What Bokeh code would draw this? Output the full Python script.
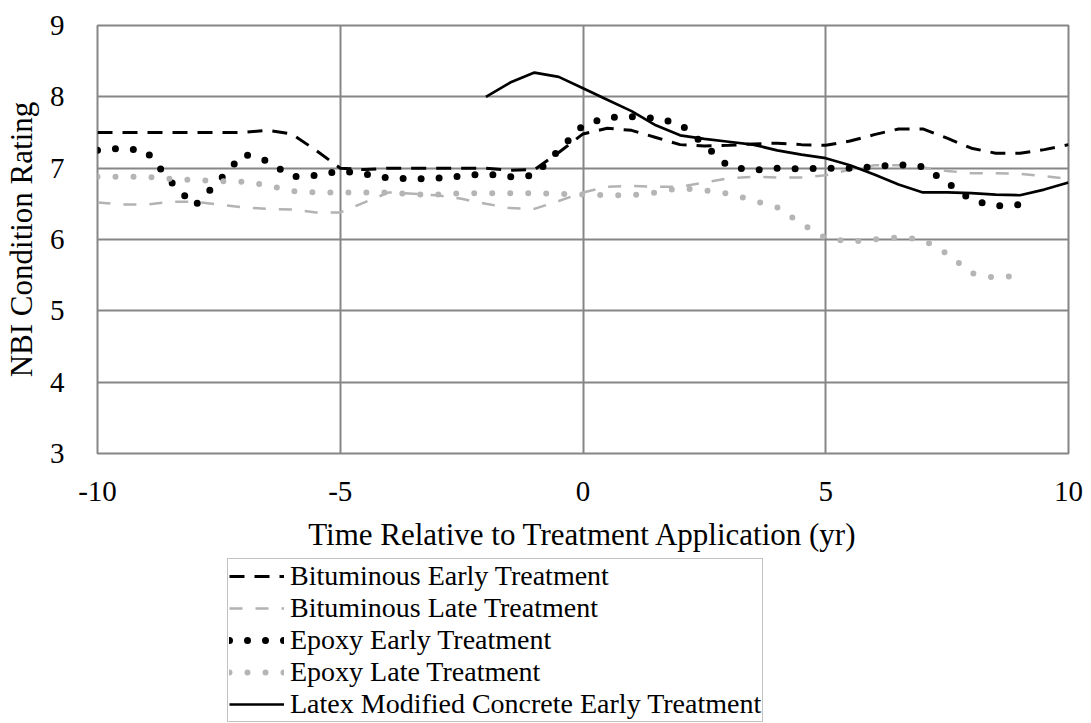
from bokeh.plotting import figure
from bokeh.layouts import column
from bokeh.models import Legend, LegendItem, FixedTicker, Range1d
from bokeh.embed import file_html
from bokeh.resources import INLINE

nan = float("nan")

years = [-10, -9.5, -9, -8.5, -8, -7.5, -7, -6.5, -6, -5.5, -5, -4.5, -4, -3.5, -3, -2.5, -2, -1.5, -1, -0.5,
         0, 0.5, 1, 1.5, 2, 2.5, 3, 3.5, 4, 4.5, 5, 5.5, 6, 6.5, 7, 7.5, 8, 8.5, 9, 9.5, 10]

bituminous_early = [7.50, 7.50, 7.50, 7.50, 7.50, 7.50, 7.50, 7.53, 7.48, 7.25, 7.00, 6.98, 7.00, 7.00, 7.00, 7.00, 7.00, 6.97, 6.98, 7.22,
                    7.48, 7.56, 7.53, 7.43, 7.33, 7.31, 7.32, 7.34, 7.35, 7.33, 7.32, 7.38, 7.47, 7.55, 7.55, 7.42, 7.28, 7.21, 7.21, 7.26, 7.33]

bituminous_late = [6.52, 6.49, 6.49, 6.53, 6.53, 6.49, 6.45, 6.43, 6.42, 6.38, 6.38, 6.52, 6.66, 6.64, 6.62, 6.57, 6.50, 6.44, 6.43, 6.54,
                   6.66, 6.74, 6.75, 6.74, 6.74, 6.80, 6.86, 6.88, 6.87, 6.87, 6.90, 6.98, 7.04, 7.04, 7.01, 6.96, 6.93, 6.93, 6.92, 6.89, 6.85]

epoxy_early = [7.25, 7.28, 7.24, 6.82, 6.47, 6.82, 7.20, 7.10, 6.88, 6.90, 6.96, 6.92, 6.86, 6.85, 6.86, 6.89, 6.92, 6.88, 6.90, 7.25,
               7.60, 7.71, 7.72, 7.70, 7.62, 7.33, 7.02, 6.97, 7.00, 6.99, 7.00, 7.00, 7.02, 7.05, 7.02, 6.80, 6.55, 6.47, 6.49, nan, nan]

epoxy_late = [6.88, 6.88, 6.88, 6.85, 6.83, 6.82, 6.81, 6.76, 6.68, 6.66, 6.66, 6.66, 6.66, 6.63, 6.63, 6.65, 6.65, 6.65, 6.65, 6.64,
              6.63, 6.62, 6.62, 6.66, 6.72, 6.69, 6.64, 6.55, 6.45, 6.22, 6.02, 5.97, 6.00, 6.03, 6.00, 5.80, 5.53, 5.46, 5.50, nan, nan]

latex_early = [nan, nan, nan, nan, nan, nan, nan, nan, nan, nan, nan, nan, nan, nan, nan, nan, 8.00, 8.20, 8.34, 8.28,
               8.12, 7.96, 7.80, 7.60, 7.46, 7.41, 7.37, 7.33, 7.25, 7.19, 7.14, 7.04, 6.91, 6.77, 6.66, 6.66, 6.65, 6.63, 6.62, 6.70, 6.80]

labels = ["Bituminous Early Treatment", "Bituminous Late Treatment", "Epoxy Early Treatment",
          "Epoxy Late Treatment", "Latex Modified Concrete Early Treatment"]

x_ticks = [-10, -5, 0, 5, 10]
y_ticks = [3, 4, 5, 6, 7, 8, 9]

FONT = "Liberation Serif"
GRID = "#868686"

styles = [dict(line_color="black", line_width=3, line_dash="15 10"),
          dict(line_color="#b3b3b3", line_width=2.5, line_dash="13 13"),
          dict(line_color="black", line_width=7, line_dash="0 18", line_cap="round"),
          dict(line_color="#b5b5b5", line_width=6, line_dash="0 18", line_cap="round"),
          dict(line_color="black", line_width=2.7)]
series = [bituminous_early, bituminous_late, epoxy_early, epoxy_late, latex_early]

p = figure(width=1091, height=558, output_backend="svg", toolbar_location=None,
           x_range=Range1d(-10, 10), y_range=Range1d(3, 9),
           min_border_left=92, min_border_right=23, min_border_top=25, min_border_bottom=105)

p.background_fill_color = "white"
p.border_fill_color = "white"
p.outline_line_color = GRID
p.outline_line_width = 2

for ax in (p.xaxis[0], p.yaxis[0]):
    ax.axis_line_color = None
    ax.major_tick_line_color = None
    ax.minor_tick_line_color = None
    ax.major_label_text_font = FONT
    ax.major_label_text_font_size = "29px"
    ax.major_label_text_color = "black"
    ax.axis_label_text_font = FONT
    ax.axis_label_text_font_size = "31px"
    ax.axis_label_text_font_style = "normal"
    ax.axis_label_text_color = "black"

p.xaxis.ticker = FixedTicker(ticks=x_ticks)
p.yaxis.ticker = FixedTicker(ticks=y_ticks)
p.xaxis.major_label_overrides = {-10: "-10", -5: "-5"}
p.xaxis.major_label_standoff = 22
p.yaxis.major_label_standoff = 27
p.xaxis.axis_label = "Time Relative to Treatment Application (yr)"
p.yaxis.axis_label = "NBI Condition Rating"
p.xaxis.axis_label_standoff = 13
p.yaxis.axis_label_standoff = 8

p.xgrid.ticker = FixedTicker(ticks=x_ticks)
p.ygrid.ticker = FixedTicker(ticks=y_ticks)
for g in (p.xgrid[0], p.ygrid[0]):
    g.grid_line_color = GRID
    g.grid_line_width = 2

for ys, st in zip(series, styles):
    p.line(years, ys, **st)

# legend panel below the chart (its renderers hold one point outside the view, so only the legend shows)
lp = figure(width=1091, height=165, output_backend="svg", toolbar_location=None,
            x_range=Range1d(0, 1), y_range=Range1d(0, 1),
            min_border_left=92, min_border_right=23, min_border_top=0, min_border_bottom=0)
lp.axis.visible = False
lp.grid.visible = False
lp.outline_line_color = None
lp.background_fill_color = "white"
lp.border_fill_color = "white"

items = []
for lab, st in zip(labels, styles):
    r = lp.line([5, 6], [5, 6], **st)
    items.append(LegendItem(label=lab, renderers=[r]))

legend = Legend(items=items, location=(130, 1))
legend.label_text_font = FONT
legend.label_text_font_size = "28px"
legend.label_text_color = "black"
legend.glyph_width = 55
legend.glyph_height = 28
legend.label_standoff = 6
legend.spacing = 0
legend.padding = 1
legend.margin = 0
legend.border_line_color = GRID
legend.border_line_width = 1.5
legend.background_fill_alpha = 1
lp.add_layout(legend, "center")

layout = column(p, lp, spacing=0)
open("out.html", "w").write(file_html(layout, INLINE))
